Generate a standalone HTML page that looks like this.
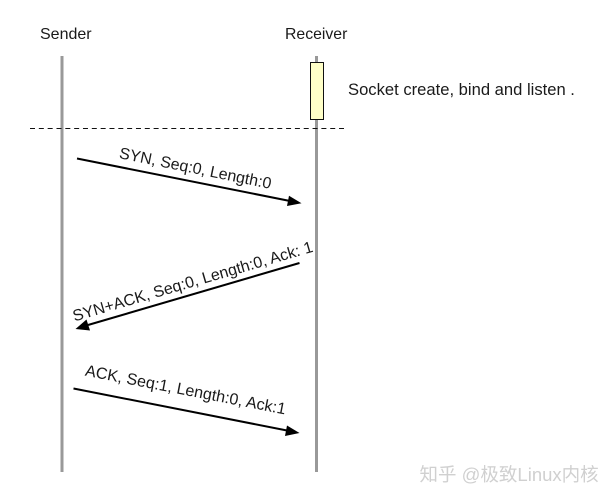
<!DOCTYPE html>
<html>
<head>
<meta charset="utf-8">
<style>
html,body{margin:0;padding:0;background:#fff;width:616px;height:501px;overflow:hidden}
svg{display:block}
text{font-family:"Liberation Sans","Noto Sans CJK SC",sans-serif;fill:#1a1a1a}
</style>
</head>
<body>
<svg width="616" height="501" viewBox="0 0 616 501" xmlns="http://www.w3.org/2000/svg">
<rect width="616" height="501" fill="#fff"/>
<line x1="62" y1="56" x2="62" y2="472" stroke="#999" stroke-width="3"/>
<line x1="316.5" y1="56" x2="316.5" y2="472" stroke="#999" stroke-width="3"/>
<line x1="30" y1="128.5" x2="344" y2="128.5" stroke="#111" stroke-width="1" stroke-dasharray="5 3.83"/>
<rect x="310.5" y="62.5" width="13" height="57" fill="#ffffc8" stroke="#111" stroke-width="1"/>
<text x="40" y="39" font-size="16">Sender</text>
<text x="285" y="39" font-size="15.8">Receiver</text>
<text x="348" y="95" font-size="16.6">Socket create, bind and listen .</text>
<line x1="77" y1="158.500" x2="290" y2="201" stroke="#000" stroke-width="2"/>
<polygon points="301.500,203.200 287,206 289,195.800" fill="#000"/>
<line x1="299.500" y1="263" x2="88" y2="325" stroke="#000" stroke-width="2"/>
<polygon points="75.500,329 86.500,319.500 90,330.500" fill="#000"/>
<line x1="73.500" y1="388.500" x2="287" y2="430.500" stroke="#000" stroke-width="2"/>
<polygon points="299.500,433 285,436 287,425.500" fill="#000"/>
<text transform="translate(118.500,158) rotate(11.500)" font-size="16">SYN, Seq:0, Length:0</text>
<text transform="translate(74.500,321.500) rotate(-16.300)" font-size="16">SYN+ACK, Seq:0, Length:0, Ack: 1</text>
<text transform="translate(84.500,375.500) rotate(11)" font-size="16.1">ACK, Seq:1, Length:0, Ack:1</text>
<text x="420.500" y="482" font-size="18.5" style="fill:#fff">知乎 @极致Linux内核</text>
<text x="419.500" y="481" font-size="18.5" style="fill:#d0d0d0">知乎 @极致Linux内核</text>
</svg>
</body>
</html>
